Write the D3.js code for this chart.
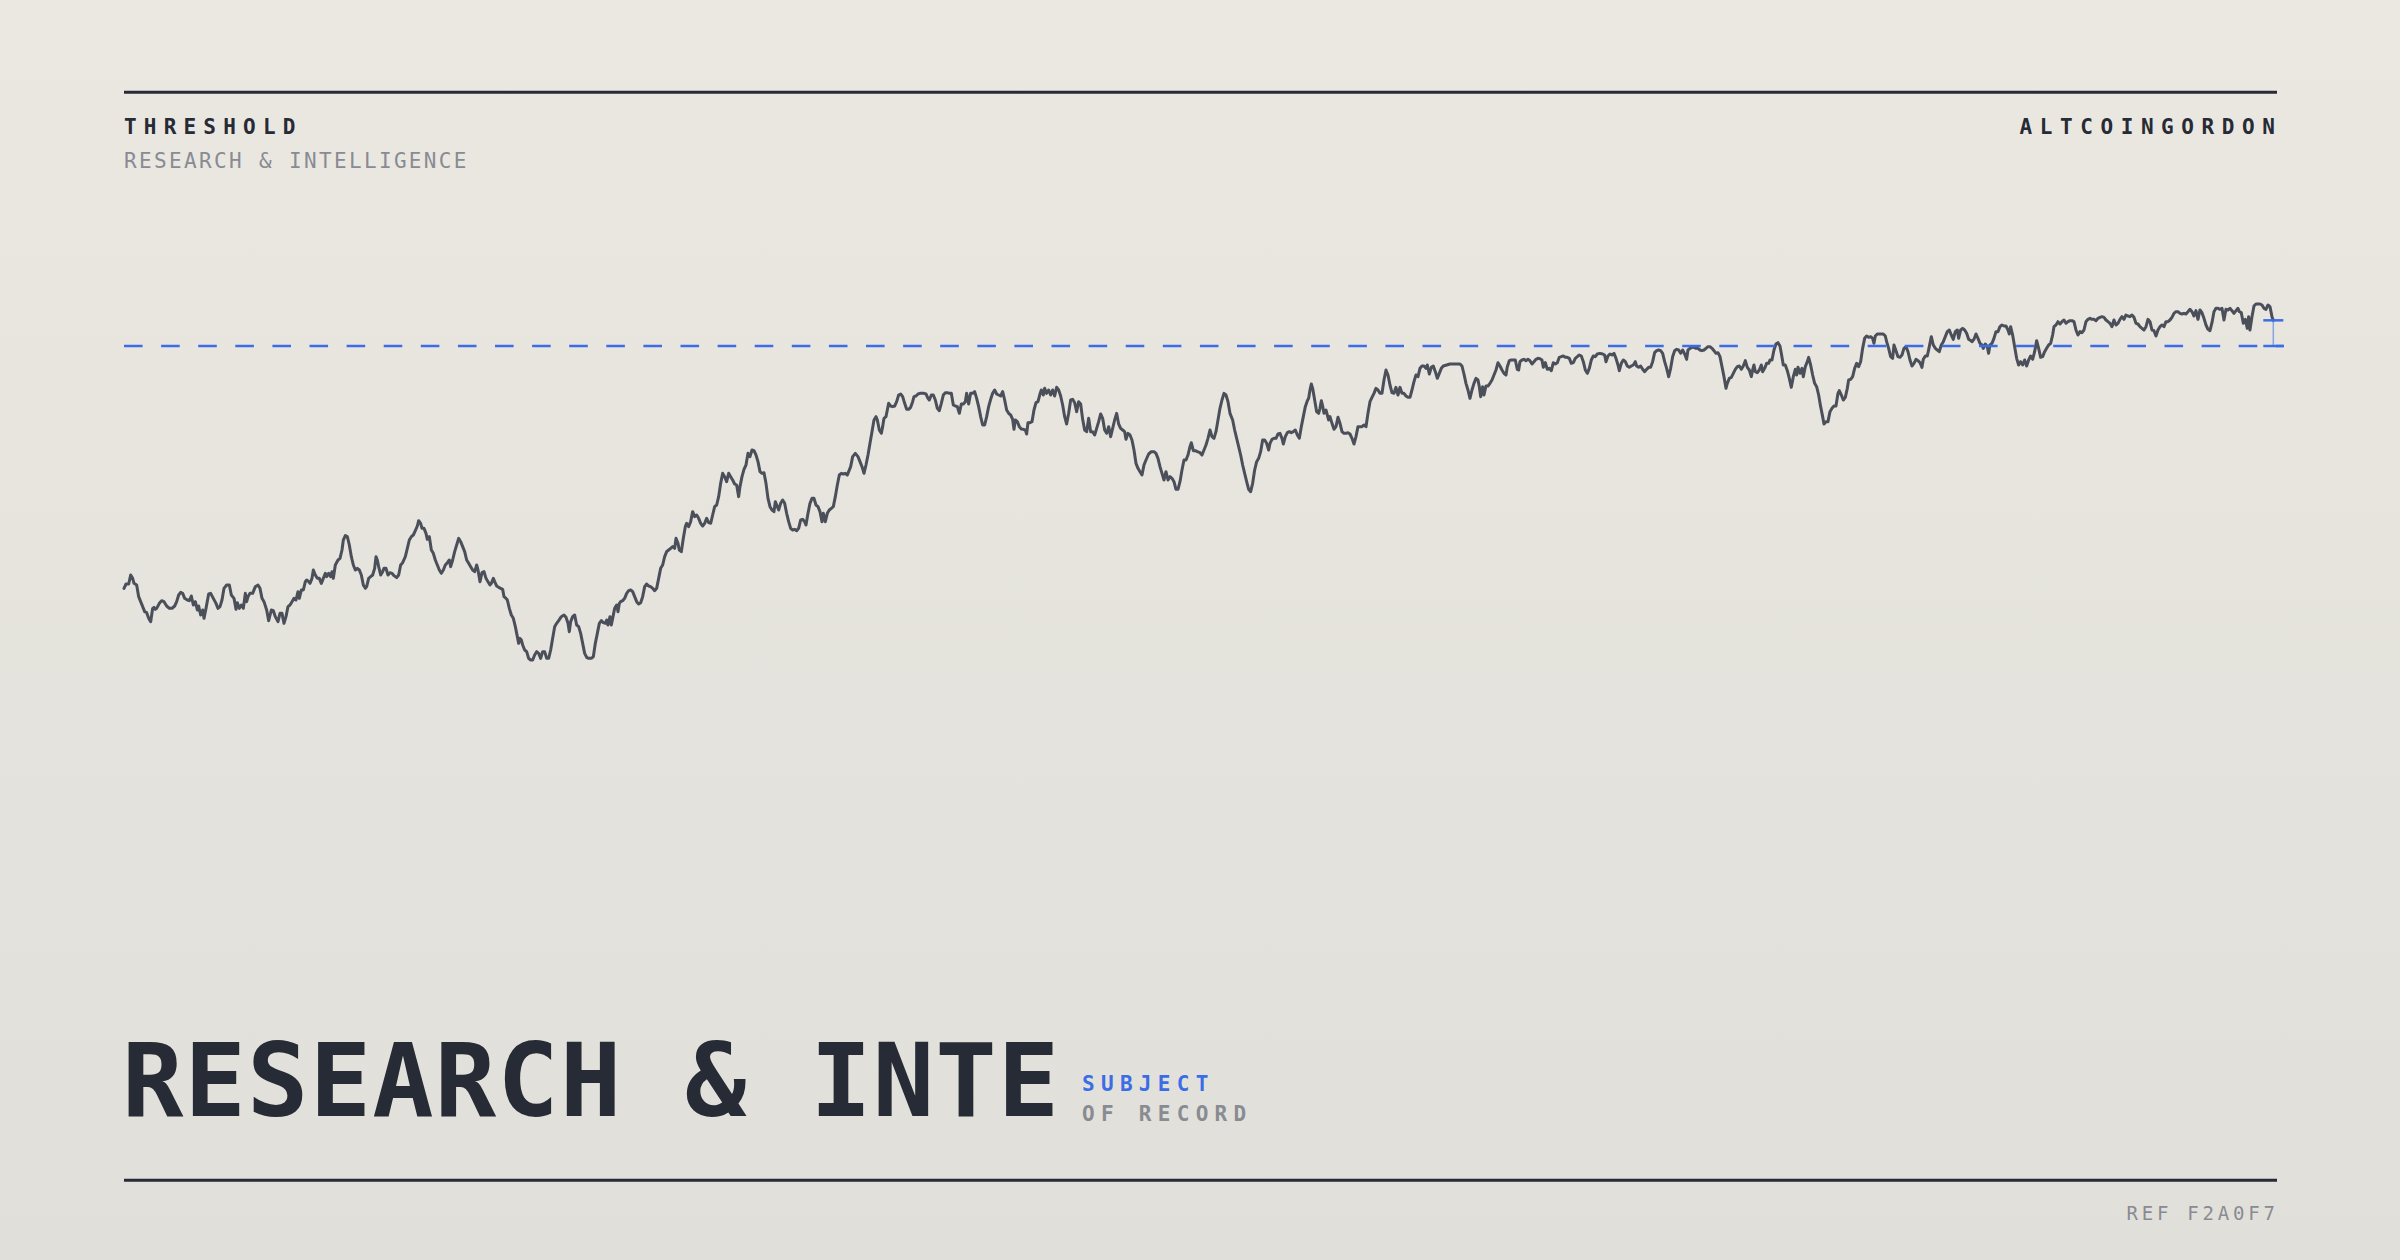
<!DOCTYPE html>
<html>
<head>
<meta charset="utf-8">
<script src="https://cdn.jsdelivr.net/npm/d3@7"></script>
<style>
html,body{margin:0;padding:0;background:#e6e4de;}
body{width:2400px;height:1260px;overflow:hidden;}
svg{display:block;}
</style>
</head>
<body>
<svg id="chart" width="2400" height="1260"></svg>
<script>
// ---------------- DATA ----------------
const brand = "THRESHOLD";
const brandSub = "RESEARCH & INTELLIGENCE";
const author = "ALTCOINGORDON";
const titleText = "RESEARCH & INTE";
const tagTop = "SUBJECT";
const tagBottom = "OF RECORD";
const refText = "REF F2A0F7";
const threshold = 106.2;

const days = [
0,6,14,20,26,30,38,44,50,56,
62,68,74,80,86,90,94,98,106,113,
120,128,136,144,152,158,164,170,176,182,
190,196,202,208,214,220,224,230,236,240,
246,254,260,268,276,282,288,294,300,308,
316,322,330,336,340,346,352,358,364,368,
372,378,386,394,402,408,414,420,428,434,
442,448,454,462,468,474,480,486,492,498,
504,510,516,522,526,532,538,544,548,554,
558,564,568,574,580,586,592,598,604,608,
614,620,624,628,634,642,648,654,658,664,
670,676,682,688,694,700,706,712,718,724,
728,734,740,746,752,756,760,764,770,776,
780,786,792,798,804,810,818,824,830,836,
844,850,856,862,868,874,880,884,890,894,
900,906,910,916,922,928,934,940,946,952,
958,964,970,976,980,986,992,998,1004,1010,
1016,1022,1028,1034,1040,1046,1052,1058,1062,1068,
1074,1080,1086,1092,1098,
1102,1108,1112,1118,1124,1130,1136,1140,1146,1150,
1156,1162,1168,1174,1180,1184,1188,1192,1196,1202,
1208,1214,1220,1226,1232,1238,1244,1250,1256,1262,
1268,1274,1280,1286,1292,1298,1304,1312,1320,1326,
1332,1336,1340,1346,1352,1358,1364,1370,1376,1382,
1388,1394,1402,1408,1414,1420,1426,1432,1438,1444,
1448,1452,1458,1462,1466,1472,1478,1482,1486,1490,
1496,1502,1508,1514,1520,1526,1532,1538,1544,1550,
1556,1562,1568,1574,1580,1586,1592,1598,1604,1610,
1616,1622,1628,1634,1640,1646,1652,1656,1662,1666,
1672,1678,1684,1688,1694,1700,1706,1712,1718,1724,
1730,1736,1742,1748,1754,1760,1766,1772,1778,1784,
1790,1796,1802,1808,1814,1820,1826,1832,1838,1844,
1848,1854,1860,1866,1872,1878,1884,1890,1896,1902,
1908,1914,1920,1926,1932,1938,1944,1950,1954,1960,
1964,1970,1976,1982,1988,1994,2000,2006,2012,2018,
2024,2030,2036,2042,2046,2052,2058,2064,2070,2076,
2082,2088,2094,2098,2104,2110,2116,2122,2128,2134,
2140,2146,2152,2158,2164,2170,2174,2180,2186,2194,
2202,2208,
2214,2220,2226,2232,2238,2244,2250,2256,2260,2266,
2272,2276,2280,2286,2290,2294,2300,2306,2312,2318,
2324,2330,2336,2342,2348,2354,2360,2366,2370,2376,
2382,2388,2394,2400,2406,2412,2416,2422,2428,2434,
2440,2446,2452,2458,2464,2470,2476,2482,2488,2494,
2500,2506,2512,2518,2524,2528,2534,2540,2546,2552,
2558,2564,2570,2576,2582,2588,2594,2600,2606,2612,
2618,2624,2630,2636,2642,2648,2654,2660,2666,2670,
2674,2680,2686,2692,2698,2704,2708,2712,2718,2724,
2730,2736,2742,2748,2752,2758,2762,2768,2774,2780,
2786,2792,2798,2804,2810,2816,2822,2828,2834,2840,
2846,2852,2858,2864,2870,2876,2882,2888,2894,2900,
2906,2912,2918,2924,2930,2936,2942,2948,2954,2960,
2966,2972,2978,2984,2990,2996,3002,3006,3012,3018,
3024,3030,3036,3042,3048,3054,3060,3066,3074,3082,
3090,3096,3102,3108,3114,3120,3126,3132,3138,3144,
3150,3156,3162,3168,3174,3180,3186,3192,3198,3202,
3208,3214,3220,3228,3234,3240,3246,3252,3258,3264,
3270,3276,3282,3288,3294,3300,3306,3312,3318,
3326,3332,3338,3344,3350,3356,3362,3368,3374,3380,
3386,3392,3398,3404,3410,3416,3422,3428,3434,3438,
3444,3450,3456,3462,3468,3474,3478,3484,3490,3496,
3502,3508,3514,3520,3526,3532,3538,3544,3550,3554,
3558,3562,3566,3572,3578,3584,3588,3592,3596,3600,
3606,3610,3614,3618,3624,3630,3636,3642,3648,3654,
3660,3666,3672,3678,3684,3690,3696,3702,3708,3714,
3720,3726,3732,3738,3744,3750,3756,3762,3768,3774,
3780,3786,3792,3798,3804,3810,3816,3822,3828,3834,
3840,3846,3852,3858,3864,3870,3876,3882,3888,3894,
3900,3906,3910,3916,3922,3928,3934,3940,3946,3952,
3958,3968,3978,3988,3998,4008,4014,4020,4026,4032,
4038,4044,4050,4056,4062,4066,4070,4076,4080,4086,
4092,4098,4104,4110,4116,4122,4128,4134,4140,4146,
4150,4156,4162,4168,4174,4180,4184,4188,4194,4200,
4206,4212,4218,4224,4230,4236,4242,4248,4254,4258,
4264,4270,4276,4282,4288,4294,4300,4306,4312,4318,
4324,4330,4336,4342,4348,4354,4360,4366,4372,4378,
4384,4390,4396,4402,4408,4414,4420,4428,
4436,4442,4446,4452,4458,4464,4470,4476,4482,4486,
4492,4498,4504,4510,4516,4522,4528,4534,4538,4544,
4550,4556,4562,4568,4574,4580,4586,4592,4598,4604,
4610,4616,4622,4628,4634,4640,4646,4652,4658,4664,
4670,4676,4682,4688,4692,4698,4704,4710,4716,4722,
4728,4734,4740,4746,4752,4758,4764,4770,4776,4782,
4788,4794,4800,4806,4810,4816,4822,4828,4834,4840,
4846,4852,4858,4864,4870,4876,4882,4886,4890,4894,
4900,4906,4912,4916,4922,4928,4934,4938,4944,4950,
4956,4962,4968,4972,4978,4984,4990,4996,5002,5008,
5014,5018,5022,5028,5034,5038,5044,5050,5054,5060,
5066,5072,5078,5084,5090,5096,5100,5106,5112,5118,
5124,5130,5136,5142,5146,5152,5158,5164,5170,5174,
5180,5186,5192,5198,5204,5210,5216,5222,5228,5234,
5240,5246,5250,5254,5260,5266,5272,5278,5284,5288,
5294,5300,5306,5310,5316,5322,5328,5334,5340,5346,
5352,5358,5364,5370,5376,5382,5388,5394,5398,5404,
5410,5416,5422,5428,5434,5440,5446,5452,5458,5464,
5470,5476,5482,5488,5494,5500,5504,5510,5516,5522,
5528,5534,5538,
5544,5550,5556,5562,5568,5574,5578,5584,5590,5594,
5598,5604,5610,5616,5622,5628,5634,5640,5646,5652,
5656,5660,5666,5672,5678,5684,5690,5696,5702,5708,
5714,5720,5726,5732,5738,5744,5750,5756,5762,5768,
5774,5780,5786,5790,5796,5802,5808,5814,5820,5826,
5832,5838,5844,5850,5856,5862,5868,5874,5880,5886,
5892,5898,5904,5910,5916,5922,5928,5934,5940,5946,
5952,5958,5964,5970,5976,5982,5988,5994,6000,6006,
6012,6018,6024,6030,6036,6042,6048,6054,6060,6066,
6072,6078,6084,6090,6096,6102,6108,6114,6120,6126,
6132,6138,6144,6150,6156,6162,6168,6174,6180,6186,
6192,6198,6204,6210,6216,6222,6228,6234,6240,6246,
6252,6258,6264,6270,6276,6282,6288,6294,6300,6306,
6312,6318,6324,6330,6336,6342,6346,6352,6358,6364,
6370,6374,6378,6384,6390,6396,6402,6408,6414,6420,
6426,6432,6438,6444,6448
];

const values = [
33.5,34.8,34.8,37.5,36.5,35.0,34.5,31.0,29.5,28.0,
26.5,26.2,24.5,23.5,27.5,27.8,27.2,27.5,29.0,29.8,
29.5,28.2,27.5,27.5,28.2,29.5,31.5,32.3,32.0,30.5,
30.0,29.8,31.2,28.5,29.5,27.0,28.2,25.5,27.0,24.5,
27.5,31.8,32.0,30.5,29.0,27.5,28.0,30.0,33.5,34.5,
34.5,31.5,30.5,27.2,29.2,27.5,28.5,27.5,32.0,29.5,
31.0,32.0,32.0,34.0,34.5,33.5,30.5,29.5,27.0,23.8,
27.0,26.8,25.0,23.5,26.0,26.0,23.0,25.0,28.0,28.5,
29.5,30.5,30.0,32.5,30.5,33.0,33.0,35.5,36.0,35.5,
35.0,36.5,39.0,37.5,36.5,36.5,35.0,36.5,38.0,37.0,
38.0,37.0,38.5,36.5,40.5,42.0,42.5,45.0,48.0,49.3,
49.0,46.5,43.0,40.5,39.0,39.5,39.0,37.5,34.5,33.5,
34.0,36.5,37.0,37.5,39.5,43.0,42.0,40.0,37.5,38.5,
39.5,39.5,37.5,38.2,38.0,37.3,36.7,37.5,40.5,41.2,
43.0,45.5,48.0,49.0,49.5,50.8,52.2,53.8,53.0,51.5,
51.5,50.0,48.2,49.0,45.0,44.0,42.0,40.5,39.0,38.0,
39.0,40.5,41.2,42.0,40.0,42.0,44.5,46.5,48.5,47.5,
46.0,44.5,42.0,41.0,40.0,39.0,38.5,40.5,39.0,35.5,
38.2,38.5,36.5,35.5,34.5,
35.0,36.5,35.5,34.2,33.8,33.5,33.2,31.0,30.5,30.0,
27.5,25.5,24.5,22.0,19.0,17.0,18.5,18.0,16.5,15.0,
14.5,12.5,12.0,12.0,13.5,14.5,14.0,12.5,14.5,14.5,
12.5,12.5,15.0,18.5,22.0,23.0,23.8,25.0,25.5,24.8,
23.0,20.5,23.5,25.0,25.5,22.5,22.0,20.0,17.0,14.0,
12.8,12.5,12.5,13.0,17.0,20.0,23.0,23.8,23.2,23.0,
24.0,22.5,25.0,22.5,24.5,27.5,28.5,26.5,29.0,29.5,
29.8,30.5,32.0,32.8,33.0,32.5,31.0,29.5,28.8,29.2,
31.0,34.0,34.8,34.2,34.0,33.5,32.8,33.5,36.5,39.5,
40.5,43.0,44.5,45.0,45.5,46.0,45.5,48.5,47.0,45.0,
44.5,48.5,52.0,53.0,52.0,53.5,56.5,55.0,55.5,54.5,
53.0,52.2,53.0,54.5,53.2,53.0,55.5,58.0,58.5,61.0,
65.0,68.0,67.0,65.5,68.0,67.0,66.0,64.8,64.5,61.0,
64.0,67.0,69.2,70.5,74.0,73.0,75.0,74.8,73.5,71.5,
68.5,68.0,68.2,65.0,60.5,58.0,57.0,56.5,59.5,58.0,
57.0,59.0,60.0,59.0,56.0,53.5,51.5,51.0,51.2,50.8,
51.5,54.0,54.2,53.5,52.5,56.0,59.0,60.5,60.5,58.5,
58.0,56.5,53.5,56.0,53.5,56.0,57.0,57.5,58.0,61.0,
64.5,67.5,68.0,67.8,68.0,67.5,68.5,70.0,73.0,74.0,
73.0,71.5,
70.0,68.0,70.5,73.5,77.0,80.5,84.0,85.0,84.0,81.0,
80.0,82.0,84.5,85.0,87.0,89.0,88.2,88.0,88.2,89.5,
91.5,91.8,91.0,89.0,87.2,87.2,87.8,89.5,91.0,91.2,
91.8,92.0,92.0,92.0,91.8,90.5,90.0,91.5,91.5,90.0,
87.5,86.8,89.0,91.5,92.2,92.2,92.0,92.0,88.5,88.2,
88.0,86.0,88.8,88.8,89.5,92.0,88.8,92.0,92.0,92.5,
90.5,88.0,85.0,82.5,82.5,85.0,88.0,90.2,92.0,93.0,
91.8,91.5,91.2,92.5,90.0,87.0,86.0,85.5,84.2,81.2,
84.0,83.5,82.0,81.3,81.2,81.0,79.8,83.2,83.2,83.5,
87.0,89.2,89.5,91.8,93.0,91.5,93.5,92.0,93.0,91.5,
93.0,91.2,93.8,93.0,91.2,88.5,85.0,82.8,86.0,90.0,
90.2,89.2,86.5,89.5,88.8,84.2,81.0,80.5,84.5,80.5,
80.5,79.5,81.5,83.5,85.8,84.5,81.0,80.0,82.0,79.0,
81.5,84.0,86.0,82.8,81.5,81.0,80.5,78.2,80.0,79.5,
78.0,75.0,71.0,69.5,68.5,67.5,70.5,72.0,73.8,74.5,
74.5,74.0,72.5,70.0,68.0,66.0,68.5,66.0,67.0,66.5,
65.5,63.2,63.2,65.5,69.0,72.0,72.0,73.5,76.0,77.2,
74.8,74.8,74.5,74.2,73.5,75.0,76.5,78.5,81.0,79.0,
78.5,80.5,84.0,87.5,90.0,92.0,91.5,89.5,86.0,
84.0,81.0,78.5,76.0,73.5,70.5,68.0,65.5,63.2,62.5,
65.0,69.0,71.5,72.5,74.5,78.0,78.0,77.0,75.0,77.0,
78.2,78.5,78.5,79.8,80.0,78.5,76.8,79.0,80.2,80.5,
80.2,80.5,81.0,79.5,78.5,82.0,85.0,88.0,89.8,90.5,
93.0,94.8,93.5,90.0,86.5,86.0,87.5,89.8,88.2,86.0,
87.0,85.5,84.0,85.0,83.0,81.2,82.0,84.8,83.0,80.5,
80.0,80.0,80.2,79.8,78.5,76.8,79.0,82.0,82.0,82.0,
82.5,82.0,86.0,89.5,90.8,92.0,93.5,93.0,92.0,92.0,
96.0,99.0,97.5,94.5,92.2,92.0,93.8,91.5,93.8,92.0,
92.0,91.2,90.8,90.8,93.0,95.5,97.5,97.0,99.5,100.2,
100.2,99.5,100.5,97.8,99.8,100.2,98.5,96.5,98.0,99.5,
100.2,100.5,100.8,100.8,100.8,100.8,100.2,97.8,95.0,93.0,
90.5,93.0,95.0,96.5,96.0,94.0,91.0,94.0,91.5,94.2,
94.2,95.0,96.0,97.5,99.0,101.2,100.2,99.0,98.0,97.5,
100.0,101.8,102.0,102.0,102.0,99.2,99.0,101.5,102.0,102.2,
101.8,102.2,101.8,100.8,101.5,102.2,102.5,102.4,102.0,99.8,
101.2,99.2,99.5,98.8,101.2,100.8,101.2,102.8,103.0,103.2,
102.8,102.8,102.5,101.0,101.2,102.5,103.0,103.5,103.2,101.5,
99.0,98.0,99.5,102.0,103.2,103.0,103.8,104.0,
103.8,103.5,101.5,103.2,103.8,103.5,104.0,102.5,100.5,98.8,
101.0,102.0,101.5,100.2,99.8,100.2,100.5,101.5,100.2,99.8,
100.2,99.2,98.5,99.2,99.8,99.8,101.5,104.2,104.8,105.0,
104.8,104.0,101.5,99.5,97.0,99.5,103.0,104.8,105.2,105.0,
104.0,105.0,103.8,102.2,105.0,105.5,105.8,105.8,105.5,105.5,
105.0,104.8,105.0,105.5,106.0,106.0,105.5,104.8,104.0,104.2,
103.0,100.0,97.0,93.5,95.0,96.5,96.8,98.0,99.2,100.0,
100.2,99.2,100.2,101.8,99.8,99.0,97.0,99.0,100.5,98.5,
98.2,99.0,100.5,98.5,99.5,101.0,101.0,102.0,102.0,105.0,
106.8,107.2,106.2,104.0,100.5,100.5,98.8,96.5,93.8,97.0,
99.2,97.5,99.8,98.0,99.5,97.0,100.0,101.5,102.8,100.5,
97.5,95.0,94.0,91.5,88.0,85.0,82.8,83.5,83.5,86.5,
87.5,88.2,88.2,92.0,92.8,91.5,90.0,90.8,93.5,96.0,
96.2,97.0,99.5,101.0,100.0,101.5,105.5,108.5,109.2,108.8,
109.0,108.5,107.0,109.2,109.8,109.8,109.8,109.8,109.2,107.5,
105.5,103.0,102.5,106.5,104.8,103.0,102.8,103.5,105.5,106.0,
104.5,102.0,100.2,101.0,102.2,101.8,101.2,99.8,102.2,103.2,
103.2,106.0,109.0,106.5,105.5,105.0,104.5,106.5,107.5,109.0,
110.5,111.0,109.5,108.2,110.5,111.0,108.5,111.0,111.5,111.0,
110.0,108.2,108.0,
107.5,108.2,109.8,108.5,107.0,106.5,105.5,106.8,106.0,104.0,
106.5,107.0,108.5,110.5,110.5,112.0,112.5,112.2,112.2,111.0,
109.8,112.0,109.5,106.0,102.5,100.5,101.5,100.5,102.0,100.2,
102.0,103.2,102.2,104.5,107.8,105.5,102.8,103.0,104.5,105.5,
106.5,107.0,109.5,112.0,112.5,113.5,112.8,113.5,114.0,113.0,
113.5,113.8,113.8,113.5,111.0,109.5,110.5,110.2,111.0,113.5,
114.2,114.5,114.2,114.2,113.8,114.5,114.8,115.0,114.8,114.0,
113.5,113.0,112.0,114.0,112.5,113.0,114.2,115.0,114.2,115.5,
115.2,115.0,115.5,114.8,113.0,112.8,112.0,111.5,111.0,112.0,
114.2,113.5,111.0,110.8,109.2,111.0,112.0,112.5,112.0,113.5,
113.5,114.0,114.8,116.0,116.5,116.5,116.0,115.8,116.0,115.8,
116.5,117.2,116.5,115.2,116.8,114.2,117.0,116.2,114.5,112.5,
111.2,110.8,113.2,116.5,117.5,117.5,117.2,117.5,114.0,117.2,
117.0,117.5,116.8,116.0,116.8,117.5,116.5,116.2,113.0,114.2,
111.5,115.0,111.0,115.0,118.2,118.8,118.8,118.8,118.5,117.5,
117.2,118.5,118.0,115.0,113.9
];

// ---------------- LAYOUT ----------------
const W = 2400, H = 1260;
const left = 124, right = 2277;
const mono = "'DejaVu Sans Mono', 'Liberation Mono', monospace";
const ink = "#262b35", grey = "#898b92", blue = "#3a6de6", lineCol = "#4a4f59";

const svg = d3.select("#chart");
const defs = svg.append("defs");
const grad = defs.append("linearGradient").attr("id","bg").attr("x1",0).attr("y1",0).attr("x2",0).attr("y2",1);
grad.append("stop").attr("offset","0%").attr("stop-color","#ebe8e2");
grad.append("stop").attr("offset","100%").attr("stop-color","#e1dfd9");
svg.append("rect").attr("width",W).attr("height",H).attr("fill","url(#bg)");

// rules
svg.append("line").attr("x1",left).attr("x2",right).attr("y1",92.3).attr("y2",92.3)
  .attr("stroke",ink).attr("stroke-width",3);
svg.append("line").attr("x1",left).attr("x2",right).attr("y1",1180.3).attr("y2",1180.3)
  .attr("stroke",ink).attr("stroke-width",3);

function txt(s, x, y, size, weight, fill, ls){
  return svg.append("text").attr("x",x).attr("y",y).text(s)
    .attr("font-family",mono).attr("font-size",size).attr("font-weight",weight)
    .attr("fill",fill).attr("letter-spacing",ls);
}
function rightAlign(sel, rx, ls){
  const L = sel.node().getComputedTextLength();
  sel.attr("x", rx - (L - ls) - 2);
}

txt(brand, left, 134.3, 21, 700, ink, 7.2);
txt(brandSub, left, 168.3, 21, 400, grey, 2.35);
rightAlign(txt(author, 0, 134.3, 21, 700, ink, 7.6), right, 7.6);
rightAlign(txt(refText, 0, 1220, 19, 400, grey, 3.8), right, 3.8);

// title
txt(titleText, 122, 1116, 102, 700, ink, 1.15);
txt(tagTop, 1082, 1090.7, 21, 700, blue, 6.3);
txt(tagBottom, 1082, 1120.7, 21, 700, grey, 6.3);

// ---------------- CHART ----------------
const pts = days.map((d,i)=>({d, v: values[i]}));
const x = d3.scaleLinear().domain([0, 6448]).range([left, 2273.3]);
const y = d3.scaleLinear().domain([0, 126]).range([700, 280]);

const line = d3.line().x(p=>x(p.d)).y(p=>y(p.v));
svg.append("path").datum(pts).attr("d", line)
  .attr("fill","none").attr("stroke",lineCol).attr("stroke-width",3)
  .attr("stroke-linejoin","round").attr("stroke-linecap","round");

// threshold
svg.append("line").attr("x1",left).attr("x2",2284).attr("y1",y(threshold)).attr("y2",y(threshold))
  .attr("stroke",blue).attr("stroke-width",2.5).attr("stroke-dasharray","18.6 18.5");

// gap bracket at last point
const last = pts[pts.length-1];
const bx = x(last.d);
svg.append("line").attr("x1",bx).attr("x2",bx).attr("y1",y(last.v)).attr("y2",y(threshold))
  .attr("stroke",blue).attr("stroke-opacity",0.55).attr("stroke-width",1.5);
[last.v, threshold].forEach(v=>{
  svg.append("line").attr("x1",bx-10).attr("x2",bx+10).attr("y1",y(v)).attr("y2",y(v))
    .attr("stroke",blue).attr("stroke-width",2.5);
});
</script>
</body>
</html>
